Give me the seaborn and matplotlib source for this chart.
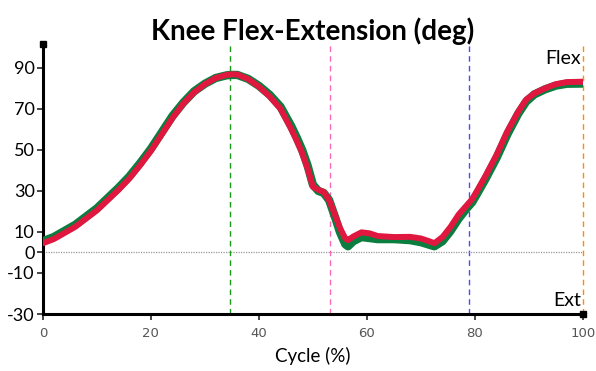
import pandas as pd
import matplotlib.pyplot as plt
import seaborn as sns

# gait cycle (%) and knee angle (deg)
cycle = [0, 2, 4, 6, 8, 10, 12, 14, 16, 18, 20, 22, 24, 26, 28, 30, 32, 34, 35, 36,
         38, 40, 42, 44, 46, 47, 48, 49, 50, 51, 52, 53, 54, 55, 56, 56.5, 57.5, 59,
         60.5, 62, 65, 68, 70, 71.5, 72.5, 74, 75.5, 77, 78.5, 79.5, 80.5, 82, 84,
         86, 88, 89.5, 91, 93, 95, 97, 100]
red_knee = [4.5, 6.5, 9.5, 12.5, 16.5, 20.5, 25.5, 30.5, 36, 42.5, 49.5, 57.5, 65.5,
            72.5, 78, 82, 85, 86.5, 86.8, 86.7, 84.5, 80.8, 76, 70, 60, 54.5, 48.5,
            41, 32, 30.5, 29.5, 25.5, 19, 12, 6.8, 6, 7.8, 9.8, 9.3, 8, 7.5, 7.6,
            6.8, 5.5, 4.5, 7.5, 12.5, 18.5, 23, 26, 30.5, 37.5, 47.5, 59, 68.5,
            74.5, 77.5, 80, 82, 83, 83.2]
green_knee = [5.5, 7.5, 10.5, 13.5, 17.5, 21.5, 26.5, 31.5, 37, 43.5, 50.5, 58.5, 66.5,
              73, 78.5, 82.2, 85, 86.3, 86.5, 86.5, 84.6, 81.2, 76.8, 71, 61.5, 56,
              50, 42.5, 33, 30, 29, 25.5, 18, 10, 4, 3, 5.5, 7.5, 7, 6.5, 6.5, 6,
              5, 3.8, 3, 5.5, 10.5, 16.5, 21.5, 24.5, 29, 36, 46, 57.5, 67.5, 73.5,
              77, 79.5, 81.3, 82.2, 82.3]

# event markers
events = [34.6, 53.1, 78.9, 100]
event_colors = ['#1a9a1a', '#ff69b4', '#4a4aff', '#ff8c00']

yticks = [90, 70, 50, 30, 10, 0, -10, -30]
xticks = [0, 20, 40, 60, 80, 100]

df = pd.DataFrame({'cycle': cycle, 'red': red_knee, 'green': green_knee})

sns.set_style("white")
plt.rcParams['font.family'] = ['Lato', 'DejaVu Sans']
plt.rcParams['text.color'] = 'black'
plt.rcParams['axes.labelcolor'] = 'black'

fig = plt.figure(figsize=(5.96, 3.71), dpi=100)
ax = fig.add_axes([0.072, 0.1536, 0.906, 0.7274])

for x, c in zip(events, event_colors):
    ax.axvline(x, color=c, lw=1.0, ls=(0, (4, 3)), zorder=1, clip_on=False)
ax.axhline(0, color='#999999', lw=0.9, ls=(0, (1, 1)), zorder=1)

sns.lineplot(data=df, x='cycle', y='green', color='#0b7d3f', lw=6, sort=False, ax=ax, zorder=3)
sns.lineplot(data=df, x='cycle', y='red', color='#e0183f', lw=4.3, sort=False, ax=ax, zorder=4)

ax.set_xlim(0, 100)
ax.set_ylim(-30, 101.5)
ax.set_yticks(yticks)
ax.set_xticks(xticks)
ax.set_yticklabels([str(v) for v in yticks], fontsize=13, color='black')
ax.set_xticklabels([str(v) for v in xticks], fontsize=9.5, color='#555555',
                   family='DejaVu Sans')
ax.tick_params(axis='y', left=True, length=4, width=1.2, pad=2)
ax.tick_params(axis='x', bottom=True, length=4, width=1.2, pad=5)

for side in ['top', 'right']:
    ax.spines[side].set_visible(False)
for side in ['left', 'bottom']:
    ax.spines[side].set_color('black')
    ax.spines[side].set_linewidth(2.2)

# little squares at the end of the axes
ax.plot([0], [1], marker='s', ms=4, color='black', transform=ax.transAxes, clip_on=False)
ax.plot([1], [0], marker='s', ms=4, color='black', transform=ax.transAxes, clip_on=False)

ax.set_xlabel('Cycle (%)', fontsize=13.5, labelpad=5)
ax.set_ylabel('')
ax.set_title('Knee Flex-Extension (deg)', fontsize=20, fontweight='bold', pad=3)

ax.text(99.6, 94.5, 'Flex', ha='right', va='center', fontsize=14)
ax.text(99.6, -23.5, 'Ext', ha='right', va='center', fontsize=14)

fig.savefig('out.png', dpi=100)
